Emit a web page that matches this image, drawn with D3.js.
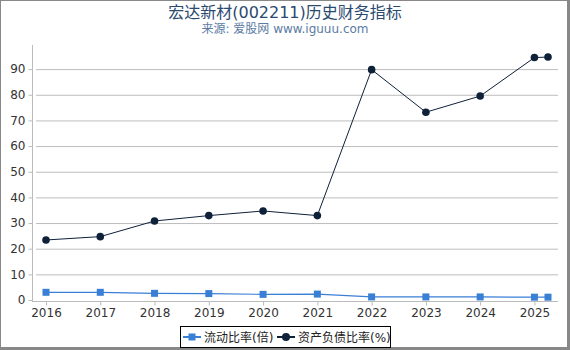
<!DOCTYPE html>
<html>
<head>
<meta charset="utf-8">
<script src="https://cdn.jsdelivr.net/npm/d3@7"></script>
<style>
  body { margin: 0; background: #fff; }
  text { font-family: "DejaVu Sans", "Noto Sans CJK SC", sans-serif; }
</style>
</head>
<body>
<div id="chart"></div>
<script>
let width = 570;
let height = 350;

// x positions in fractional years (the last point is a partial year)
const periods = [2016, 2017, 2018, 2019, 2020, 2021, 2022, 2023, 2024, 2025, 2025.25];
const currentRatio = [3.0, 3.0, 2.6, 2.5, 2.2, 2.3, 1.2, 1.2, 1.2, 1.1, 1.1];
const debtRatio = [23.4, 24.7, 30.8, 32.9, 34.7, 32.9, 89.8, 73.2, 79.5, 94.5, 94.7];
const yearTicks = [2016, 2017, 2018, 2019, 2020, 2021, 2022, 2023, 2024, 2025];
const yTicks = [0, 10, 20, 30, 40, 50, 60, 70, 80, 90];
const seriesNames = ['流动比率(倍)', '资产负债比率(%)'];
const seriesColors = ['#3a7fd6', '#0f2039'];

let svg = d3.select('#chart')
            .append('svg')
            .attr('width', width)
            .attr('height', height);

// frame
svg.append('rect').attr('x', 0.5).attr('y', 0.5).attr('width', width - 2).attr('height', height - 2)
   .attr('fill', '#fff').attr('stroke', '#888');
svg.append('line').attr('x1', width - 1.5).attr('x2', width - 1.5).attr('y1', 0).attr('y2', height)
   .attr('stroke', '#888').attr('stroke-width', 3);
svg.append('line').attr('x1', 0).attr('x2', width).attr('y1', height - 1.5).attr('y2', height - 1.5)
   .attr('stroke', '#888').attr('stroke-width', 3);

svg.append('text').attr('x', 285).attr('y', 18).attr('text-anchor', 'middle')
   .style('font-size', '16px').style('fill', '#2b4a6f')
   .text('宏达新材(002211)历史财务指标');
svg.append('text').attr('x', 285).attr('y', 33).attr('text-anchor', 'middle')
   .style('font-size', '12px').style('fill', '#5b7ba3')
   .text('来源: 爱股网 www.iguuu.com');

let x = d3.scaleLinear().domain([2016, 2025.25]).range([46, 548]);
let y = d3.scaleLinear().domain([0, 99.4]).range([300, 45]);

// grid
svg.append('g')
   .selectAll('line')
   .data(yTicks.slice(1))
   .enter()
   .append('line')
   .attr('x1', 36).attr('x2', 558)
   .attr('y1', d => y(d) + 0.5).attr('y2', d => y(d) + 0.5)
   .attr('stroke', '#bdbdbd');

let yAxis = svg.append('g')
   .attr('transform', 'translate(32.5,0)')
   .call(d3.axisLeft(y).tickValues(yTicks).tickSize(4).tickPadding(3));
yAxis.select('.domain').attr('stroke', '#bbb').attr('d', 'M0,45V301');
yAxis.selectAll('.tick line').attr('stroke', '#bbb');
yAxis.selectAll('.tick text').style('font-size', '12px').style('fill', '#333');

let xAxis = svg.append('g')
   .attr('transform', 'translate(0,301.5)')
   .call(d3.axisBottom(x).tickValues(yearTicks).tickFormat(d3.format('d')).tickSize(4).tickPadding(3));
xAxis.select('.domain').attr('stroke', '#bbb').attr('d', 'M32,0H558');
xAxis.selectAll('.tick line').attr('stroke', '#bbb');
xAxis.selectAll('.tick text').style('font-size', '12px').style('fill', '#333');

let line = d3.line()
   .x((d, i) => x(periods[i]))
   .y(d => y(d));

svg.append('path').datum(currentRatio).attr('d', line)
   .attr('fill', 'none').attr('stroke', seriesColors[0]).attr('stroke-width', 1.2);
svg.append('path').datum(debtRatio).attr('d', line)
   .attr('fill', 'none').attr('stroke', seriesColors[1]).attr('stroke-width', 1);

svg.append('g').selectAll('rect')
   .data(currentRatio)
   .enter()
   .append('rect')
   .attr('x', (d, i) => x(periods[i]) - 3.5)
   .attr('y', d => y(d) - 3.5)
   .attr('width', 7).attr('height', 7)
   .attr('fill', seriesColors[0]);

svg.append('g').selectAll('circle')
   .data(debtRatio)
   .enter()
   .append('circle')
   .attr('cx', (d, i) => x(periods[i]))
   .attr('cy', d => y(d))
   .attr('r', 3.8)
   .attr('fill', seriesColors[1]);

// legend
let legend = svg.append('g');
legend.append('rect').attr('x', 180.5).attr('y', 326.5).attr('width', 210).attr('height', 21)
   .attr('fill', '#fff').attr('stroke', '#000');
let lx = [183, 277];
seriesNames.forEach(function(name, i) {
    let g = legend.append('g').attr('transform', 'translate(' + lx[i] + ',337)');
    g.append('line').attr('x1', 0).attr('x2', 18).attr('y1', 0).attr('y2', 0)
     .attr('stroke', seriesColors[i]).attr('stroke-width', 2);
    if (i === 0) {
        g.append('rect').attr('x', 5.5).attr('y', -3.5).attr('width', 7).attr('height', 7).attr('fill', seriesColors[i]);
    } else {
        g.append('circle').attr('cx', 9).attr('cy', 0).attr('r', 4).attr('fill', seriesColors[i]);
    }
    g.append('text').attr('x', 21).attr('y', 4.5)
     .style('font-size', '12px').style('fill', '#222')
     .text(name);
});
</script>
</body>
</html>
